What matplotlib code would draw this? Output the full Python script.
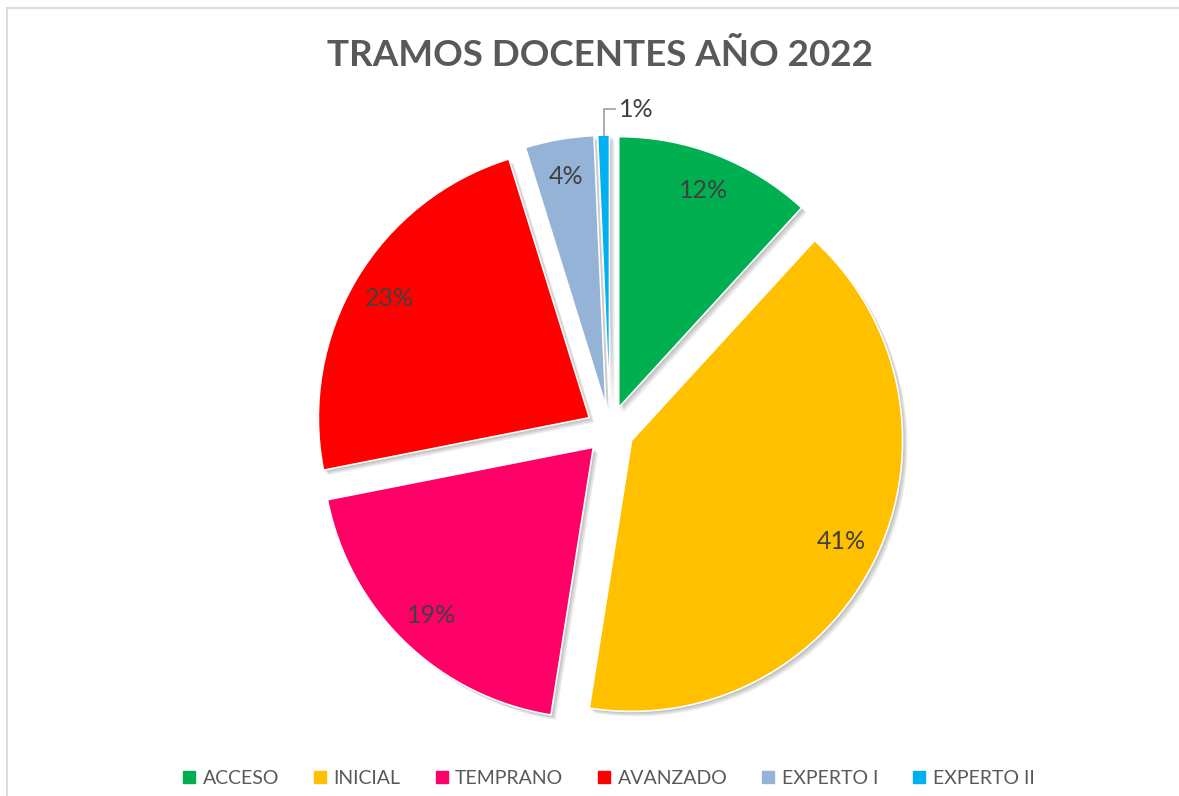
import matplotlib
matplotlib.use("Agg")
import matplotlib.pyplot as plt
from matplotlib.lines import Line2D
import numpy as np

# ---- data ----
categories = ["ACCESO", "INICIAL", "TEMPRANO", "AVANZADO", "EXPERTO I", "EXPERTO II"]
shares = [11.8, 40.7, 19.4, 23.3, 4.1, 0.7]
colors = ["#00B050", "#FFC000", "#FF0066", "#FF0000", "#95B3D7", "#00B0F0"]
title = "TRAMOS DOCENTES AÑO 2022"

W, H = 1179, 796
fig = plt.figure(figsize=(W / 100, H / 100), dpi=100)
fig.patch.set_facecolor("white")
ax = fig.add_axes([0, 0, 1, 1])
ax.set_xlim(0, W)
ax.set_ylim(0, H)
ax.axis("off")

FONT = "Lato"
cx, cy, R = 610, H - 430, 271
explode = [24] * len(shares)   # pie explode offsets are in data units (px here)

# soft shadow (several offset translucent layers)
for k in range(1, 6):
    ax.pie(shares, radius=R, center=(cx + 1.0 * k, cy - 1.0 * k), startangle=90,
           counterclock=False, explode=explode, colors=["#000000"] * len(shares),
           wedgeprops=dict(alpha=0.06, linewidth=0), frame=True)

wedges, texts, autotexts = ax.pie(
    shares, radius=R, center=(cx, cy), startangle=90, counterclock=False,
    explode=explode, colors=colors, autopct="%.0f%%", pctdistance=0.86,
    wedgeprops=dict(edgecolor="white", linewidth=1.2), frame=True,
    textprops=dict(fontsize=18, color="#404040", family=FONT))
ax.set_xlim(0, W)
ax.set_ylim(0, H)
ax.set_aspect("equal", adjustable="box")
ax.axis("off")

# small slice: label outside with leader line
small = len(shares) - 1
w = wedges[small]
autotexts[small].set_visible(False)
mid = np.deg2rad((w.theta1 + w.theta2) / 2)
x0 = w.center[0] + w.r * np.cos(mid)
y0 = w.center[1] + w.r * np.sin(mid)
ax.plot([x0, x0, x0 + 11], [y0, y0 + 26, y0 + 26], color="#A6A6A6", lw=1.3,
        solid_joinstyle="miter")
ax.text(x0 + 15, y0 + 26, autotexts[small].get_text(), fontsize=18, color="#404040",
        family=FONT, ha="left", va="center")

# title
fig.text(600 / W, 1 - 56 / H, title, ha="center", va="center", fontsize=26.5,
         fontweight="bold", color="#595959", family=FONT)

# legend
handles = [Line2D([], [], marker="s", linestyle="none", markersize=9,
                  markerfacecolor=c, markeredgecolor=c) for c in colors]
leg = fig.legend(handles, categories, loc="center", bbox_to_anchor=(608 / W, 1 - 778 / H),
                 ncol=6, frameon=False, handlelength=0.8, handletextpad=0.3,
                 columnspacing=1.7, prop=dict(family=FONT, size=14))
for t in leg.get_texts():
    t.set_color("#595959")

# chart frame (top and left edges visible)
fig.add_artist(Line2D([6.5 / W, 6.5 / W], [0, 1 - 7.5 / H], color="#D9D9D9", lw=1.3,
                      transform=fig.transFigure))
fig.add_artist(Line2D([6.5 / W, 1], [1 - 7.5 / H, 1 - 7.5 / H], color="#D9D9D9", lw=1.3,
                      transform=fig.transFigure))

fig.savefig("out.png", dpi=100, facecolor="white")
